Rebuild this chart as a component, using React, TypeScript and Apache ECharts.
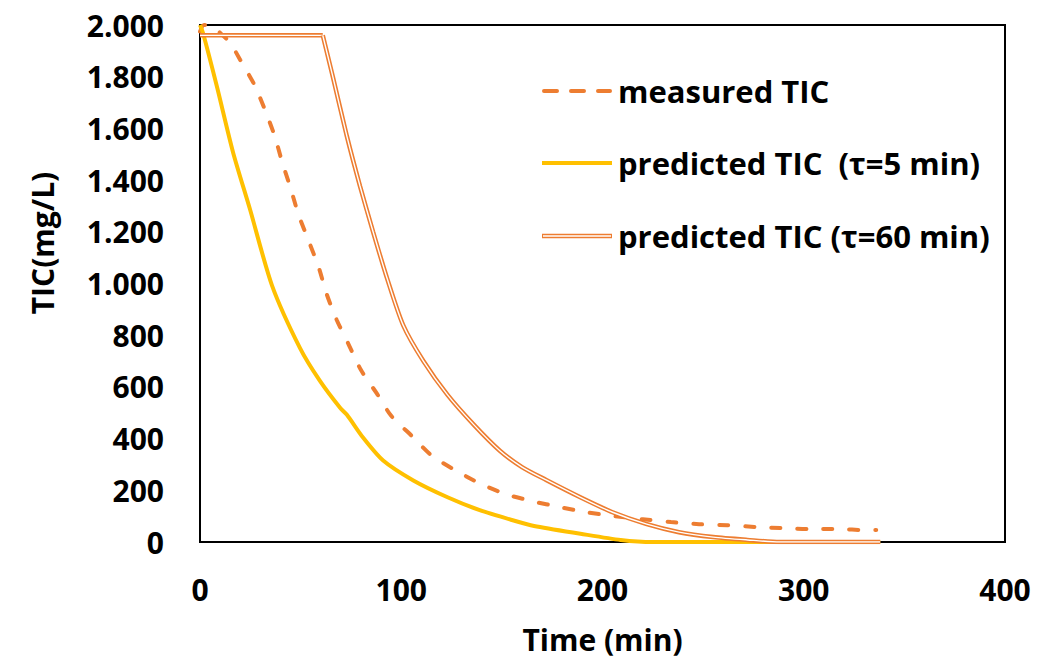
import React, { useEffect, useRef } from "react";
import * as echarts from "echarts";

const measuredT = [0, 2, 5, 11, 15, 20, 27, 32, 37, 41, 45, 49, 54, 59, 63, 68, 74, 80, 88, 95, 105, 115, 127, 139, 152, 165, 179, 192, 206, 220, 234, 248, 262, 276, 289, 303, 317, 331, 336];
const measuredV = [1975, 2000, 2000, 1962, 1931, 1865, 1769, 1677, 1573, 1465, 1369, 1265, 1165, 1062, 958, 858, 762, 665, 573, 488, 412, 335, 277, 227, 185, 158, 135, 115, 100, 88, 77, 69, 65, 58, 54, 50, 50, 46, 46];

const tau5T = [0, 1.5, 8.4, 16.4, 24.8, 35.8, 49.7, 59.6, 69.6, 73, 81, 91, 106, 123, 139, 155, 166, 189, 209, 225, 260, 300, 338];
const tau5V = [2000, 1969, 1762, 1508, 1288, 992, 750, 623, 519, 492, 404, 315, 238, 173, 123, 85, 62, 32, 8, 0, 0, 0, 0];

const tau60T = [0, 61, 66, 73, 79.5, 86, 93, 101, 111, 123, 136, 149, 160, 172, 189, 205, 222, 238, 255, 272, 288, 338];
const tau60V = [1960, 1960, 1800, 1569, 1377, 1200, 1019, 838, 700, 569, 454, 353, 290, 240, 173, 115, 69, 38, 19, 8, 0, 0];
const tau60DelayEnd = 61; // time at which the τ=60 prediction starts to decline

const xTicks = { min: 0, max: 400, interval: 100 };
const yTicks = { min: 0, max: 2000, interval: 200 };

const legendNames = ["measured TIC", "predicted TIC  (τ=5 min)", "predicted TIC (τ=60 min)"];

const ORANGE = "#ED7D31";
const YELLOW = "#FFC000";
const FONT = "'Open Sans', 'DejaVu Sans', sans-serif";

const pairs = (t: number[], v: number[]) => t.map((x, i) => [x, v[i]]);

export default function App() {
  const ref = useRef<HTMLDivElement>(null);
  useEffect(() => {
    if (!ref.current) return;
    const chart = echarts.init(ref.current, undefined, { renderer: "svg" });
    const legendX1 = 542, legendX2 = 612, textX = 618;
    const legendY = [91, 163, 236];
    const all60 = pairs(tau60T, tau60V);
    const flat60 = all60.filter((p) => p[0] <= tau60DelayEnd);
    const decl60 = all60.filter((p) => p[0] >= tau60DelayEnd);
    const dbl = (data: number[][], smooth: number | boolean, name: string) => [
      { name, type: "line", data, showSymbol: false, smooth, lineStyle: { color: ORANGE, width: 4.5 } },
      { name: name + " inner", type: "line", data, showSymbol: false, smooth, lineStyle: { color: "#fff", width: 1.4 }, z: 3 },
    ];
    chart.setOption({
      animation: false,
      backgroundColor: "#fff",
      grid: { left: 200, right: 53, top: 25, bottom: 114, show: true, borderColor: "#000", borderWidth: 2 },
      xAxis: {
        type: "value",
        min: xTicks.min,
        max: xTicks.max,
        interval: xTicks.interval,
        name: "Time (min)",
        nameLocation: "middle",
        nameGap: 82,
        nameTextStyle: { fontFamily: FONT, fontWeight: "bold", fontSize: 30, color: "#000" },
        axisLine: { show: true, lineStyle: { color: "#000", width: 2 } },
        axisTick: { show: false },
        splitLine: { show: false },
        axisLabel: { margin: 32, fontFamily: FONT, fontWeight: "bold", fontSize: 30, color: "#000" },
      },
      yAxis: {
        type: "value",
        min: yTicks.min,
        max: yTicks.max,
        interval: yTicks.interval,
        axisLine: { show: true, lineStyle: { color: "#000", width: 2 } },
        axisTick: { show: false },
        splitLine: { show: false },
        axisLabel: {
          margin: 36,
          fontFamily: FONT,
          fontWeight: "bold",
          fontSize: 30,
          color: "#000",
          formatter: (v: number) => String(Math.round(v)).replace(/\B(?=(\d{3})+(?!\d))/g, "."),
        },
      },
      series: [
        {
          name: legendNames[0],
          type: "line",
          data: pairs(measuredT, measuredV),
          showSymbol: false,
          smooth: 0.25,
          lineStyle: { color: ORANGE, width: 4, type: [9, 17], cap: "round" },
        },
        {
          name: legendNames[1],
          type: "line",
          data: pairs(tau5T, tau5V),
          showSymbol: false,
          smooth: 0.25,
          lineStyle: { color: YELLOW, width: 4 },
        },
        ...dbl(flat60, false, legendNames[2]),
        ...dbl(decl60, 0.25, legendNames[2] + " decline"),
      ],
      graphic: [
        {
          type: "text",
          x: 42,
          y: 243,
          rotation: Math.PI / 2,
          style: { text: "TIC(mg/L)", fontFamily: FONT, fontWeight: "bold", fontSize: 30, fill: "#000", textAlign: "center", textVerticalAlign: "middle" },
        },
        { type: "line", shape: { x1: legendX1 + 2, y1: legendY[0], x2: legendX2 - 2, y2: legendY[0] }, style: { stroke: ORANGE, lineWidth: 4, lineDash: [13, 14], lineCap: "round" } },
        { type: "line", shape: { x1: legendX1, y1: legendY[1], x2: legendX2, y2: legendY[1] }, style: { stroke: YELLOW, lineWidth: 4 } },
        { type: "line", shape: { x1: legendX1, y1: legendY[2], x2: legendX2, y2: legendY[2] }, style: { stroke: ORANGE, lineWidth: 4.5 } },
        { type: "line", shape: { x1: legendX1 + 1, y1: legendY[2], x2: legendX2 - 1, y2: legendY[2] }, style: { stroke: "#fff", lineWidth: 1.4 } },
        ...legendNames.map((n, i) => ({
          type: "text",
          x: textX,
          y: legendY[i],
          style: { text: n, fontFamily: FONT, fontWeight: "bold", fontSize: 31, fill: "#000", textAlign: "left", textVerticalAlign: "middle" },
        })),
      ],
    });
    return () => chart.dispose();
  }, []);
  return <div ref={ref} style={{ width: 1058, height: 659, position: "absolute", left: 0, top: 0 }} />;
}
